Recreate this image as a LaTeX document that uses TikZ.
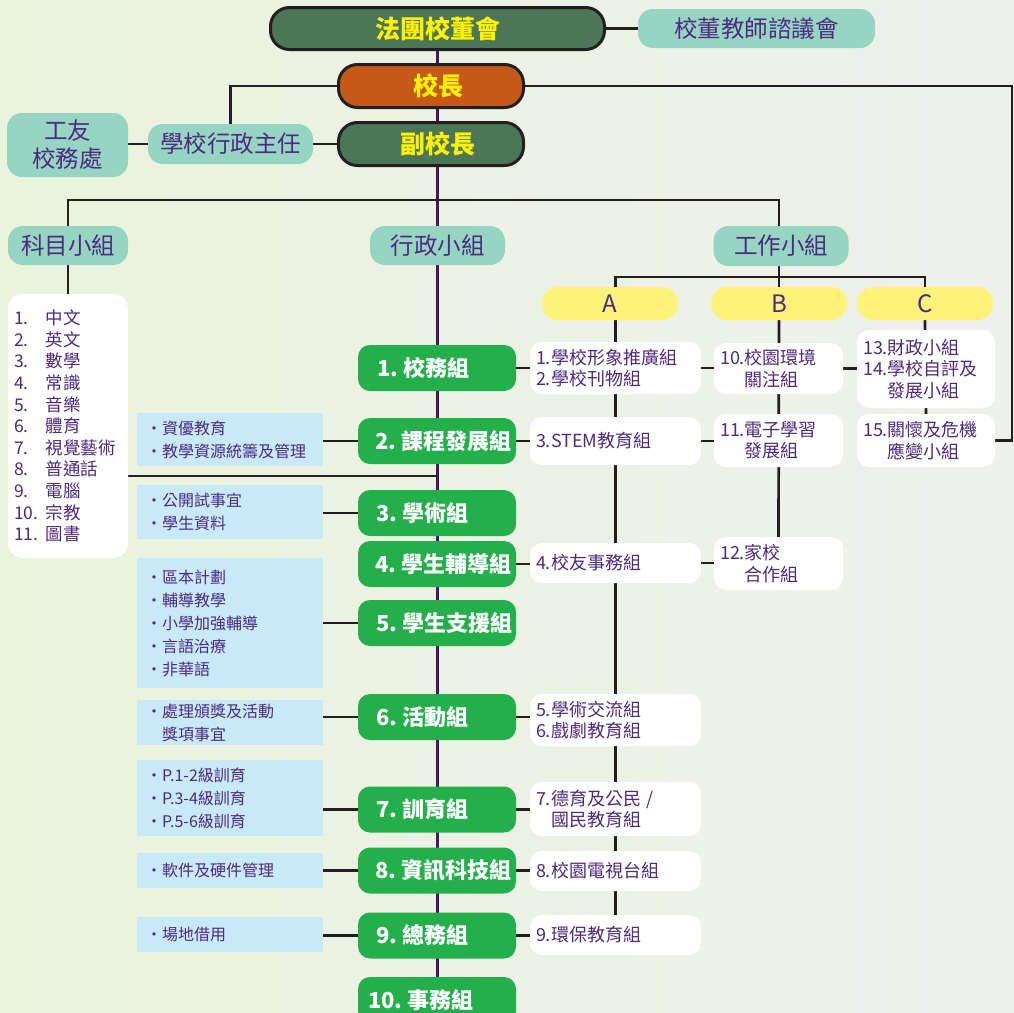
\documentclass[tikz,border=0pt]{standalone}
\usepackage{fontspec}
\setmainfont{Noto Sans CJK TC}
\definecolor{boardgreen}{RGB}{75, 118, 88}
\definecolor{headorange}{RGB}{197, 90, 24}
\definecolor{titleyellow}{RGB}{255, 242, 0}
\definecolor{mint}{RGB}{150, 213, 193}
\definecolor{inkpurple}{RGB}{78, 42, 130}
\definecolor{leafgreen}{RGB}{35, 176, 75}
\definecolor{skyblue}{RGB}{199, 233, 248}
\definecolor{lemon}{RGB}{255, 242, 120}
\definecolor{linegray}{RGB}{35, 31, 32}
\definecolor{spinepurple}{RGB}{60, 28, 92}
\definecolor{bgleft}{RGB}{234, 243, 220}
\definecolor{bgright}{RGB}{238, 240, 236}
\newcommand{\blueitem}{\makebox[16pt][l]{·}}
\pgfdeclarelayer{back}
\pgfdeclarelayer{lines}
\pgfsetlayers{back,lines,main}

\begin{document}
\begin{tikzpicture}[x=1pt, y=-1pt,
    link/.style={draw=linegray, line width=2.7pt},
    spine/.style={draw=spinepurple, line width=2.5pt},
    headbox/.style={draw=linegray, line width=3pt, rounded corners=19pt, text=titleyellow,
                    font=\bfseries\fontsize{25}{30}\selectfont, inner sep=0pt},
    mintbox/.style={fill=mint, rounded corners=15pt, text=inkpurple, align=center,
                    font=\fontsize{23.5}{28}\selectfont, inner sep=0pt},
    greenbox/.style={fill=leafgreen, rounded corners=12pt, text=white, text width=158pt, minimum height=46pt,
                     align=left, font=\bfseries\fontsize{22}{26}\selectfont, inner sep=0pt},
    bluebox/.style={fill=skyblue, text=inkpurple, text width=168pt, align=left,
                    font=\fontsize{16}{23}\selectfont, inner xsep=9pt, inner ysep=0pt},
    whitebox/.style={fill=white, rounded corners=12pt, text=inkpurple, align=left,
                     font=\fontsize{18}{21.5}\selectfont, inner xsep=6pt, inner ysep=0pt},
    letterbox/.style={fill=lemon, rounded corners=16pt, text=inkpurple, minimum width=136pt, minimum height=33pt,
                      font=\fontsize{24}{28}\selectfont, inner sep=0pt}]
    \useasboundingbox (0,0) rectangle (1014,1012);
    \begin{pgfonlayer}{back}
        \shade[left color=bgleft, right color=bgright] (0,0) rectangle (1014,1012);
    \end{pgfonlayer}

    \node[headbox, fill=boardgreen, minimum width=334pt, minimum height=42pt] (board)     at (437.5, 28.5) {法團校董會};
    \node[mintbox, minimum width=237pt, minimum height=39pt]                  (council)   at (756.5, 28.5) {校董教師諮議會};
    \node[headbox, fill=headorange, minimum width=185pt, minimum height=43pt] (principal) at (431, 86)     {\hspace*{14pt}校長};
    \node[headbox, fill=boardgreen, minimum width=185pt, minimum height=43pt] (vice)      at (431, 144)    {\hspace*{13pt}副校長};
    \node[mintbox, minimum width=165pt, minimum height=40pt]                  (admin)     at (230.5, 144)  {學校行政主任};
    \node[mintbox, minimum width=121pt, minimum height=64pt]                  (staff)     at (67.5, 145)   {工友\\校務處};

    \node[mintbox, minimum width=120pt, minimum height=39pt] (subjects)   at (68, 245.5)    {科目小組};
    \node[mintbox, minimum width=135pt, minimum height=39pt] (admgroups)  at (437.5, 245.5) {行政小組};
    \node[mintbox, minimum width=135pt, minimum height=40pt] (taskgroups) at (781, 246)     {工作小組};

    \node[fill=white, rounded corners=15pt, text=inkpurple, text width=108pt, minimum height=264pt, align=left,
          font=\fontsize{17.5}{21.6}\selectfont, inner xsep=6pt, inner ysep=0pt] (subjlist) at (68, 426)
         {\makebox[32pt][l]{1.}中文\\\makebox[32pt][l]{2.}英文\\\makebox[32pt][l]{3.}數學\\
          \makebox[32pt][l]{4.}常識\\\makebox[32pt][l]{5.}音樂\\\makebox[32pt][l]{6.}體育\\
          \makebox[32pt][l]{7.}視覺藝術\\\makebox[32pt][l]{8.}普通話\\\makebox[32pt][l]{9.}電腦\\
          \makebox[32pt][l]{10.}宗教\\\makebox[32pt][l]{11.}圖書};

    \node[greenbox] (g1)  at (437, 368)   {\hspace*{19pt}\mbox{1.\hspace{5pt}校務組}};
    \node[greenbox] (g2)  at (437, 441)   {\hspace*{17pt}\mbox{2.\hspace{5pt}課程發展組}};
    \node[greenbox] (g3)  at (437, 513)   {\hspace*{18pt}\mbox{3.\hspace{5pt}學術組}};
    \node[greenbox] (g4)  at (437, 564)   {\hspace*{17pt}\mbox{4.\hspace{5pt}學生輔導組}};
    \node[greenbox] (g5)  at (437, 623)   {\hspace*{18pt}\mbox{5.\hspace{5pt}學生支援組}};
    \node[greenbox] (g6)  at (437, 717)   {\hspace*{18pt}\mbox{6.\hspace{5pt}活動組}};
    \node[greenbox] (g7)  at (437, 809.5) {\hspace*{18pt}\mbox{7.\hspace{5pt}訓育組}};
    \node[greenbox] (g8)  at (437, 870.5) {\hspace*{17pt}\mbox{8.\hspace{5pt}資訊科技組}};
    \node[greenbox] (g9)  at (437, 935.5) {\hspace*{18pt}\mbox{9.\hspace{5pt}總務組}};
    \node[greenbox] (g10) at (437, 1000)  {\hspace*{10pt}\mbox{10.\hspace{5pt}事務組}};

    \node[bluebox, minimum height=53pt]  (b1) at (230, 439.5) {\blueitem 資優教育\\\blueitem 教學資源統籌及管理};
    \node[bluebox, minimum height=54pt]  (b2) at (230, 512)   {\blueitem 公開試事宜\\\blueitem 學生資料};
    \node[bluebox, minimum height=130pt] (b3) at (230, 623)   {\blueitem 區本計劃\\\blueitem 輔導教學\\\blueitem 小學加強輔導\\\blueitem 言語治療\\\blueitem 非華語};
    \node[bluebox, minimum height=45pt]  (b4) at (230, 722.5) {\blueitem 處理頒獎及活動\\\makebox[16pt]{}獎項事宜};
    \node[bluebox, minimum height=76pt]  (b5) at (230, 798)   {\blueitem P.1-2級訓育\\\blueitem P.3-4級訓育\\\blueitem P.5-6級訓育};
    \node[bluebox, minimum height=35pt]  (b6) at (230, 870.5) {\blueitem 軟件及硬件管理};
    \node[bluebox, minimum height=35pt]  (b7) at (230, 934.5) {\blueitem 場地借用};

    \node[letterbox] (yA) at (610, 303.5) {A};
    \node[letterbox] (yB) at (779, 303.5) {B};
    \node[letterbox] (yC) at (925, 303.5) {C};

    \node[whitebox, text width=159pt, minimum height=52pt] (wa1) at (615.5, 368) {1.學校形象推廣組\\2.學校刊物組};
    \node[whitebox, text width=159pt, minimum height=48pt] (wa2) at (615.5, 441) {3.STEM教育組};
    \node[whitebox, text width=159pt, minimum height=40pt] (wa3) at (615.5, 563) {4.校友事務組};
    \node[whitebox, text width=159pt, minimum height=52pt] (wa4) at (615.5, 720) {5.學術交流組\\6.戲劇教育組};
    \node[whitebox, text width=159pt, minimum height=54pt] (wa5) at (615.5, 809) {7.德育及公民 /\\\phantom{7.}國民教育組};
    \node[whitebox, text width=159pt, minimum height=40pt] (wa6) at (615.5, 871) {8.校園電視台組};
    \node[whitebox, text width=159pt, minimum height=40pt] (wa7) at (615.5, 935) {9.環保教育組};

    \node[whitebox, text width=117pt, minimum height=51pt] (wb1) at (778.5, 368.5) {10.校園環境\\\phantom{10.}關注組};
    \node[whitebox, text width=117pt, minimum height=53pt] (wb2) at (778.5, 440.5) {11.電子學習\\\phantom{11.}發展組};
    \node[whitebox, text width=117pt, minimum height=53pt] (wb3) at (778.5, 563.5) {12.家校\\\phantom{12.}合作組};
    \node[whitebox, text width=126pt, minimum height=78pt] (wc1) at (926, 369)     {13.財政小組\\14.學校自評及\\\phantom{14.}發展小組};
    \node[whitebox, text width=126pt, minimum height=53pt] (wc2) at (926, 440.5)   {15.關懷及危機\\\phantom{15.}應變小組};

    \coordinate (split)    at (437, 200);
    \coordinate (listjoin) at (437, 476);
    \coordinate (rcorner)  at (1012, 440.5);
    \coordinate (forkA)    at (615.5, 277);
    \coordinate (forkC)    at (925, 277);

    \begin{pgfonlayer}{lines}
        \draw[spine] (board.south) -- (board.south |- g10.north);
        \draw[link]  (board.east) -- (council.west);
        \draw[link]  (principal.west) -| (admin.north);
        \draw[link]  (admin.west) -- (admin.west -| staff.east);
        \draw[link]  (admin.east) -- (vice.west);
        \draw[link]  (principal.east) -| (rcorner) -- (wc2.east);
        \draw[link]  (subjects.north) |- (split) -| (yB.north |- taskgroups.north);
        \draw[link]  (subjects.south) -- (subjlist.north);
        \draw[link]  (subjlist.east |- listjoin) -- (listjoin);
        \draw[link]  (yB.north |- taskgroups.south) -- (yB.north);
        \draw[link]  (wa1.north |- yA.north) -- (forkA) -- (forkC) -- (yC.north);
        \draw[link]  (wa1.north |- yA.south) -- (wa7.north);
        \draw[link]  (yB.south) -- (wb3.north);
        \draw[link]  (yC.south) -- (wc2.north);
        \draw[link]  (g1.east) -- (g1.east -| wa1.west);
        \draw[link]  (g2.east) -- (g2.east -| wa2.west);
        \draw[link]  (g4.east) -- (g4.east -| wa3.west);
        \draw[link]  (g6.east) -- (g6.east -| wa4.west);
        \draw[link]  (g7.east) -- (g7.east -| wa5.west);
        \draw[link]  (g8.east) -- (g8.east -| wa6.west);
        \draw[link]  (g9.east) -- (g9.east -| wa7.west);
        \draw[link]  (wa1.east) -- (wa1.east -| wb1.west);
        \draw[link]  (wa2.east) -- (wa2.east -| wb2.west);
        \draw[link]  (wa3.east) -- (wa3.east -| wb3.west);
        \draw[link]  (wb1.east) -- (wb1.east -| wc1.west);
        \draw[link]  (b1.east |- g2) -- (g2.west);
        \draw[link]  (b2.east |- g3) -- (g3.west);
        \draw[link]  (b3.east |- g5) -- (g5.west);
        \draw[link]  (b4.east |- g6) -- (g6.west);
        \draw[link]  (b5.east |- g7) -- (g7.west);
        \draw[link]  (b6.east |- g8) -- (g8.west);
        \draw[link]  (b7.east |- g9) -- (g9.west);
    \end{pgfonlayer}
\end{tikzpicture}
\end{document}
